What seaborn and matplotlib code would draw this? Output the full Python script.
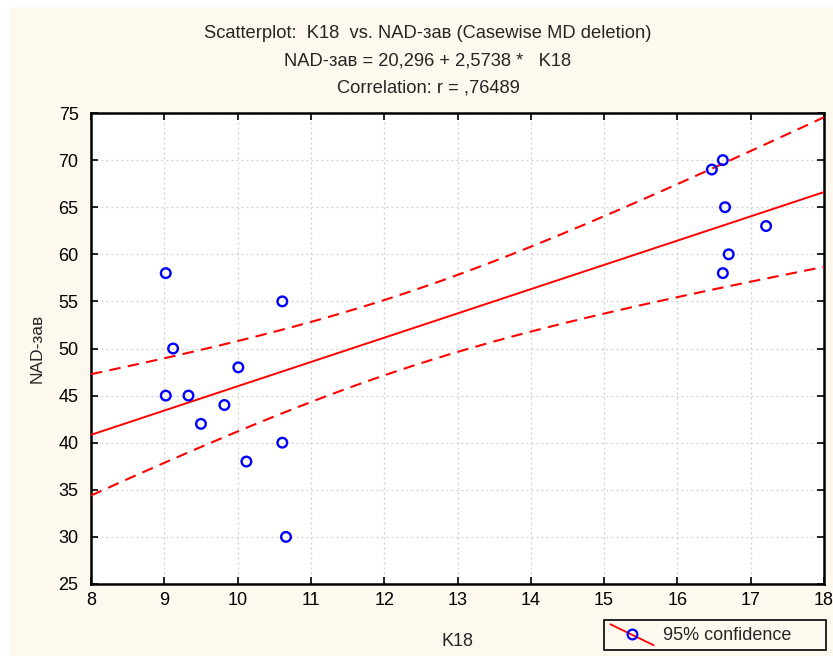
import numpy as np
import pandas as pd
import matplotlib
matplotlib.use("Agg")
import matplotlib.pyplot as plt
from matplotlib.lines import Line2D
from matplotlib.legend_handler import HandlerBase
from matplotlib.patches import Rectangle
import seaborn as sns

# ---- data ----
k18 = [9.02, 10.61, 9.12, 10.01, 9.02, 9.33, 9.82, 9.50, 10.61, 10.12, 10.66,
       16.62, 16.47, 16.65, 17.21, 16.70, 16.62]
nad = [58, 55, 50, 48, 45, 45, 44, 42, 40, 38, 30,
       70, 69, 65, 63, 60, 58]
x_ticks = list(range(8, 19))
y_ticks = list(range(25, 80, 5))
title_lines = ["Scatterplot:  K18  vs. NAD-зав (Casewise MD deletion)",
               "NAD-зав = 20,296 + 2,5738 *   K18",
               "Correlation: r = ,76489"]

df = pd.DataFrame({"K18": k18, "NAD": nad})

sns.set_style("white")
plt.rcParams['font.family'] = ['Liberation Sans', 'DejaVu Sans']

cream = "#fdf9ef"
fig = plt.figure(figsize=(8.33, 6.56), dpi=100, facecolor="white")
fig.patches.append(Rectangle((10/833, 0), 1, 1 - 7/656, transform=fig.transFigure,
                             facecolor=cream, edgecolor="none", zorder=-10))
ax = fig.add_axes([91/833, 72/656, (824-91)/833, (584-113)/656])
ax.set_facecolor("white")

# regression + 95% confidence band of the mean
x = np.asarray(k18, float)
y = np.asarray(nad, float)
n = len(x)
b, a = np.polyfit(x, y, 1)
xs = np.linspace(8, 18, 200)
yhat = a + b * xs
resid = y - (a + b * x)
s = np.sqrt(np.sum(resid**2) / (n - 2))
sxx = np.sum((x - x.mean())**2)
tval = 2.131  # t(0.975, 15)
half = tval * s * np.sqrt(1/n + (xs - x.mean())**2 / sxx)

ax.plot(xs, yhat, color="red", lw=1.4, zorder=3)
ax.plot(xs, yhat + half, color="red", lw=1.5, ls=(0, (5.5, 3.5)), zorder=3)
ax.plot(xs, yhat - half, color="red", lw=1.5, ls=(0, (5.5, 3.5)), zorder=3)

sns.scatterplot(data=df, x="K18", y="NAD", ax=ax, marker="o", s=48,
                facecolors="none", edgecolor="blue", linewidth=1.7, zorder=4)

ax.set_xlim(8, 18)
ax.set_ylim(25, 75)
ax.set_xticks(x_ticks)
ax.set_yticks(y_ticks)
ax.grid(True, color="#cfcfcf", ls=(0, (1.5, 2.5)), lw=0.9)
ax.tick_params(direction="in", length=5, width=1.2, labelsize=13,
               top=True, right=True, bottom=True, left=True,
               colors="black", pad=6)
ax.tick_params(axis="y", pad=9)
for sp in ax.spines.values():
    sp.set_linewidth(1.8)
    sp.set_color("black")
ax.set_xlabel("K18", fontsize=13, labelpad=17)
ax.set_ylabel("NAD-зав", fontsize=12.5, labelpad=10)

for i, t in enumerate(title_lines):
    fig.text(428/833, 1 - (34 + 27*i)/656, t, ha="center", va="center", fontsize=13.2)


class DiagHandler(HandlerBase):
    def create_artists(self, legend, orig_handle, xdescent, ydescent, width,
                       height, fontsize, trans):
        ln = Line2D([-xdescent, -xdescent + width], [-ydescent + height + 2, -ydescent - 4],
                    color="red", lw=1.3, transform=trans)
        mk = Line2D([-xdescent + width/2], [-ydescent + height/2 - 0.5], marker="o",
                    markersize=7, markerfacecolor="none", markeredgecolor="blue",
                    markeredgewidth=1.6, ls="none", transform=trans)
        return [ln, mk]


h = Line2D([], [], color="red")
leg = fig.legend([h], ["95% confidence"], handler_map={Line2D: DiagHandler()},
                 loc="lower left", bbox_to_anchor=(604/833, 6/656, 222/833, 29/656),
                 bbox_transform=fig.transFigure, mode="expand", fontsize=13, frameon=True,
                 fancybox=False, handlelength=2.4, borderpad=0.35,
                 handletextpad=0.5, borderaxespad=0)
leg.get_frame().set_edgecolor("black")
leg.get_frame().set_linewidth(1.2)
leg.get_frame().set_facecolor(cream)
leg.get_frame().set_alpha(1)

fig.savefig("out.png", dpi=100, facecolor=fig.get_facecolor())
